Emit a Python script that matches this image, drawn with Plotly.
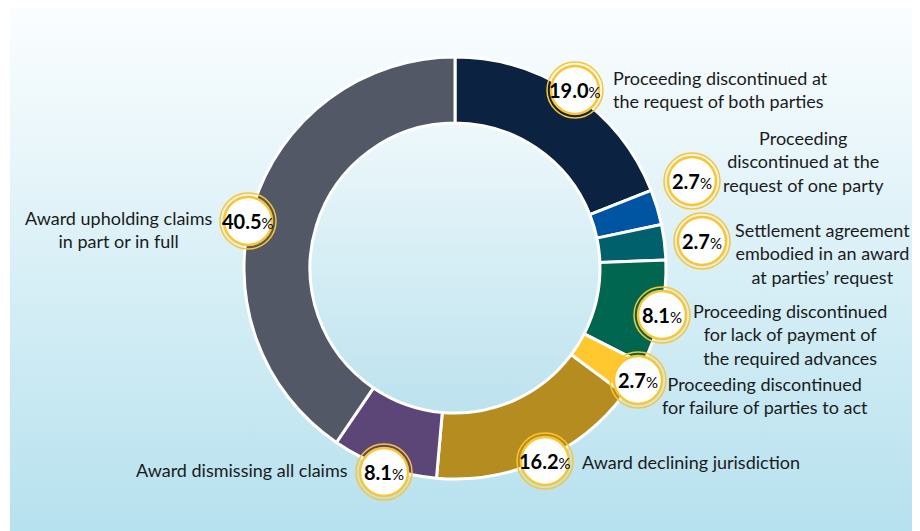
import numpy as np
import plotly.graph_objects as go

# outcome categories and their share of cases (%)
categories = [
    "Proceeding discontinued at<br>the request of both parties",
    "Proceeding<br>discontinued at the<br>request of one party",
    "Settlement agreement<br>embodied in an award<br>at parties\u2019 request",
    "Proceeding discontinued<br>for lack of payment of<br>the required advances",
    "Proceeding discontinued<br>for failure of parties to act",
    "Award declining jurisdiction",
    "Award dismissing all claims",
    "Award upholding claims<br>in part or in full",
]
shares = [19.0, 2.7, 2.7, 8.1, 2.7, 16.2, 8.1, 40.5]
colors = ["#0b2240", "#0055a2", "#00606c", "#006650", "#ffc82e",
          "#b58c20", "#5c4678", "#535866"]

# label layout: badge centre, text anchor point, alignment (page pixel coords)
badges = [(575, 90), (692, 181), (702, 241), (662, 315),
          (638, 380), (545, 461), (384, 472), (248, 221)]
texts = [(611, 89, "left"), (803, 161, "center"), (822, 253, "center"),
         (790, 334, "center"), (765, 395, "center"), (580, 462, "left"),
         (350, 470, "right"), (118, 229, "center")]

W, H = 920, 531
OFF = 8  # default body margin of the html page
cx, cy, r_out, r_in = 455, 268, 211, 145
FONT = "Lato"
INK = "#1b1b1b"
YEL = "#fcc52c"

fig = go.Figure()

# gradient background panel
fig.add_trace(go.Scatter(
    x=[10, W + 20, W + 20, 10, 10], y=[0, 0, H + 20, H + 20, 0], mode="lines",
    fill="toself", line=dict(width=0), hoverinfo="skip", showlegend=False,
    fillgradient=dict(type="vertical", start=H, stop=0,
                      colorscale=[[0, "#b6e1ee"], [1, "#fcfeff"]]),
))

# gradient inside the donut hole
t = np.linspace(0, 2 * np.pi, 200)
fig.add_trace(go.Scatter(
    x=cx + r_in * np.cos(t), y=cy + r_in * np.sin(t), mode="lines", fill="toself",
    line=dict(width=0), hoverinfo="skip", showlegend=False,
    fillgradient=dict(type="vertical", start=cy + r_in, stop=cy - r_in,
                      colorscale=[[0, "#bce2ee"], [1, "#eef8fb"]]),
))

pcx, pcy = cx - OFF, cy - OFF
fig.add_trace(go.Pie(
    labels=[c.replace("<br>", " ") for c in categories], values=shares,
    sort=False, direction="clockwise", rotation=0, hole=r_in / r_out,
    marker=dict(colors=colors, line=dict(color="white", width=3)),
    textinfo="none", hoverinfo="label+percent", showlegend=False,
    domain=dict(x=[(pcx - r_out) / W, (pcx + r_out) / W],
                y=[(H - pcy - r_out) / H, (H - pcy + r_out) / H]),
))

shapes = []
annotations = []
for (bx, by), (tx, ty, al), cat, v in zip(badges, texts, categories, shares):
    shapes.append(dict(type="circle", xref="x", yref="y", layer="above",
                       x0=bx - 28, x1=bx + 28, y0=by - 28, y1=by + 28,
                       line=dict(color=YEL, width=1.5)))
    shapes.append(dict(type="circle", xref="x", yref="y", layer="above",
                       x0=bx - 24, x1=bx + 24, y0=by - 24, y1=by + 24,
                       fillcolor="white", line=dict(color=YEL, width=2.5)))
    annotations.append(dict(
        x=bx, y=by, xref="x", yref="y", showarrow=False,
        text=f"<b>{v:.1f}</b><span style='font-size:15px'>%</span>",
        font=dict(family=FONT, size=20, color="black")))
    annotations.append(dict(
        x=tx, y=ty, xref="x", yref="y", showarrow=False, text=cat,
        align=al, xanchor=al, yanchor="middle",
        font=dict(family=FONT, size=18, color=INK)))

fig.update_layout(
    width=W, height=H, margin=dict(l=0, r=0, t=0, b=0),
    paper_bgcolor="white", plot_bgcolor="rgba(0,0,0,0)",
    xaxis=dict(range=[OFF, W + OFF], visible=False, fixedrange=True),
    yaxis=dict(range=[H + OFF, OFF], visible=False, fixedrange=True),
    shapes=shapes, annotations=annotations,
)

fig.write_html("out.html")
